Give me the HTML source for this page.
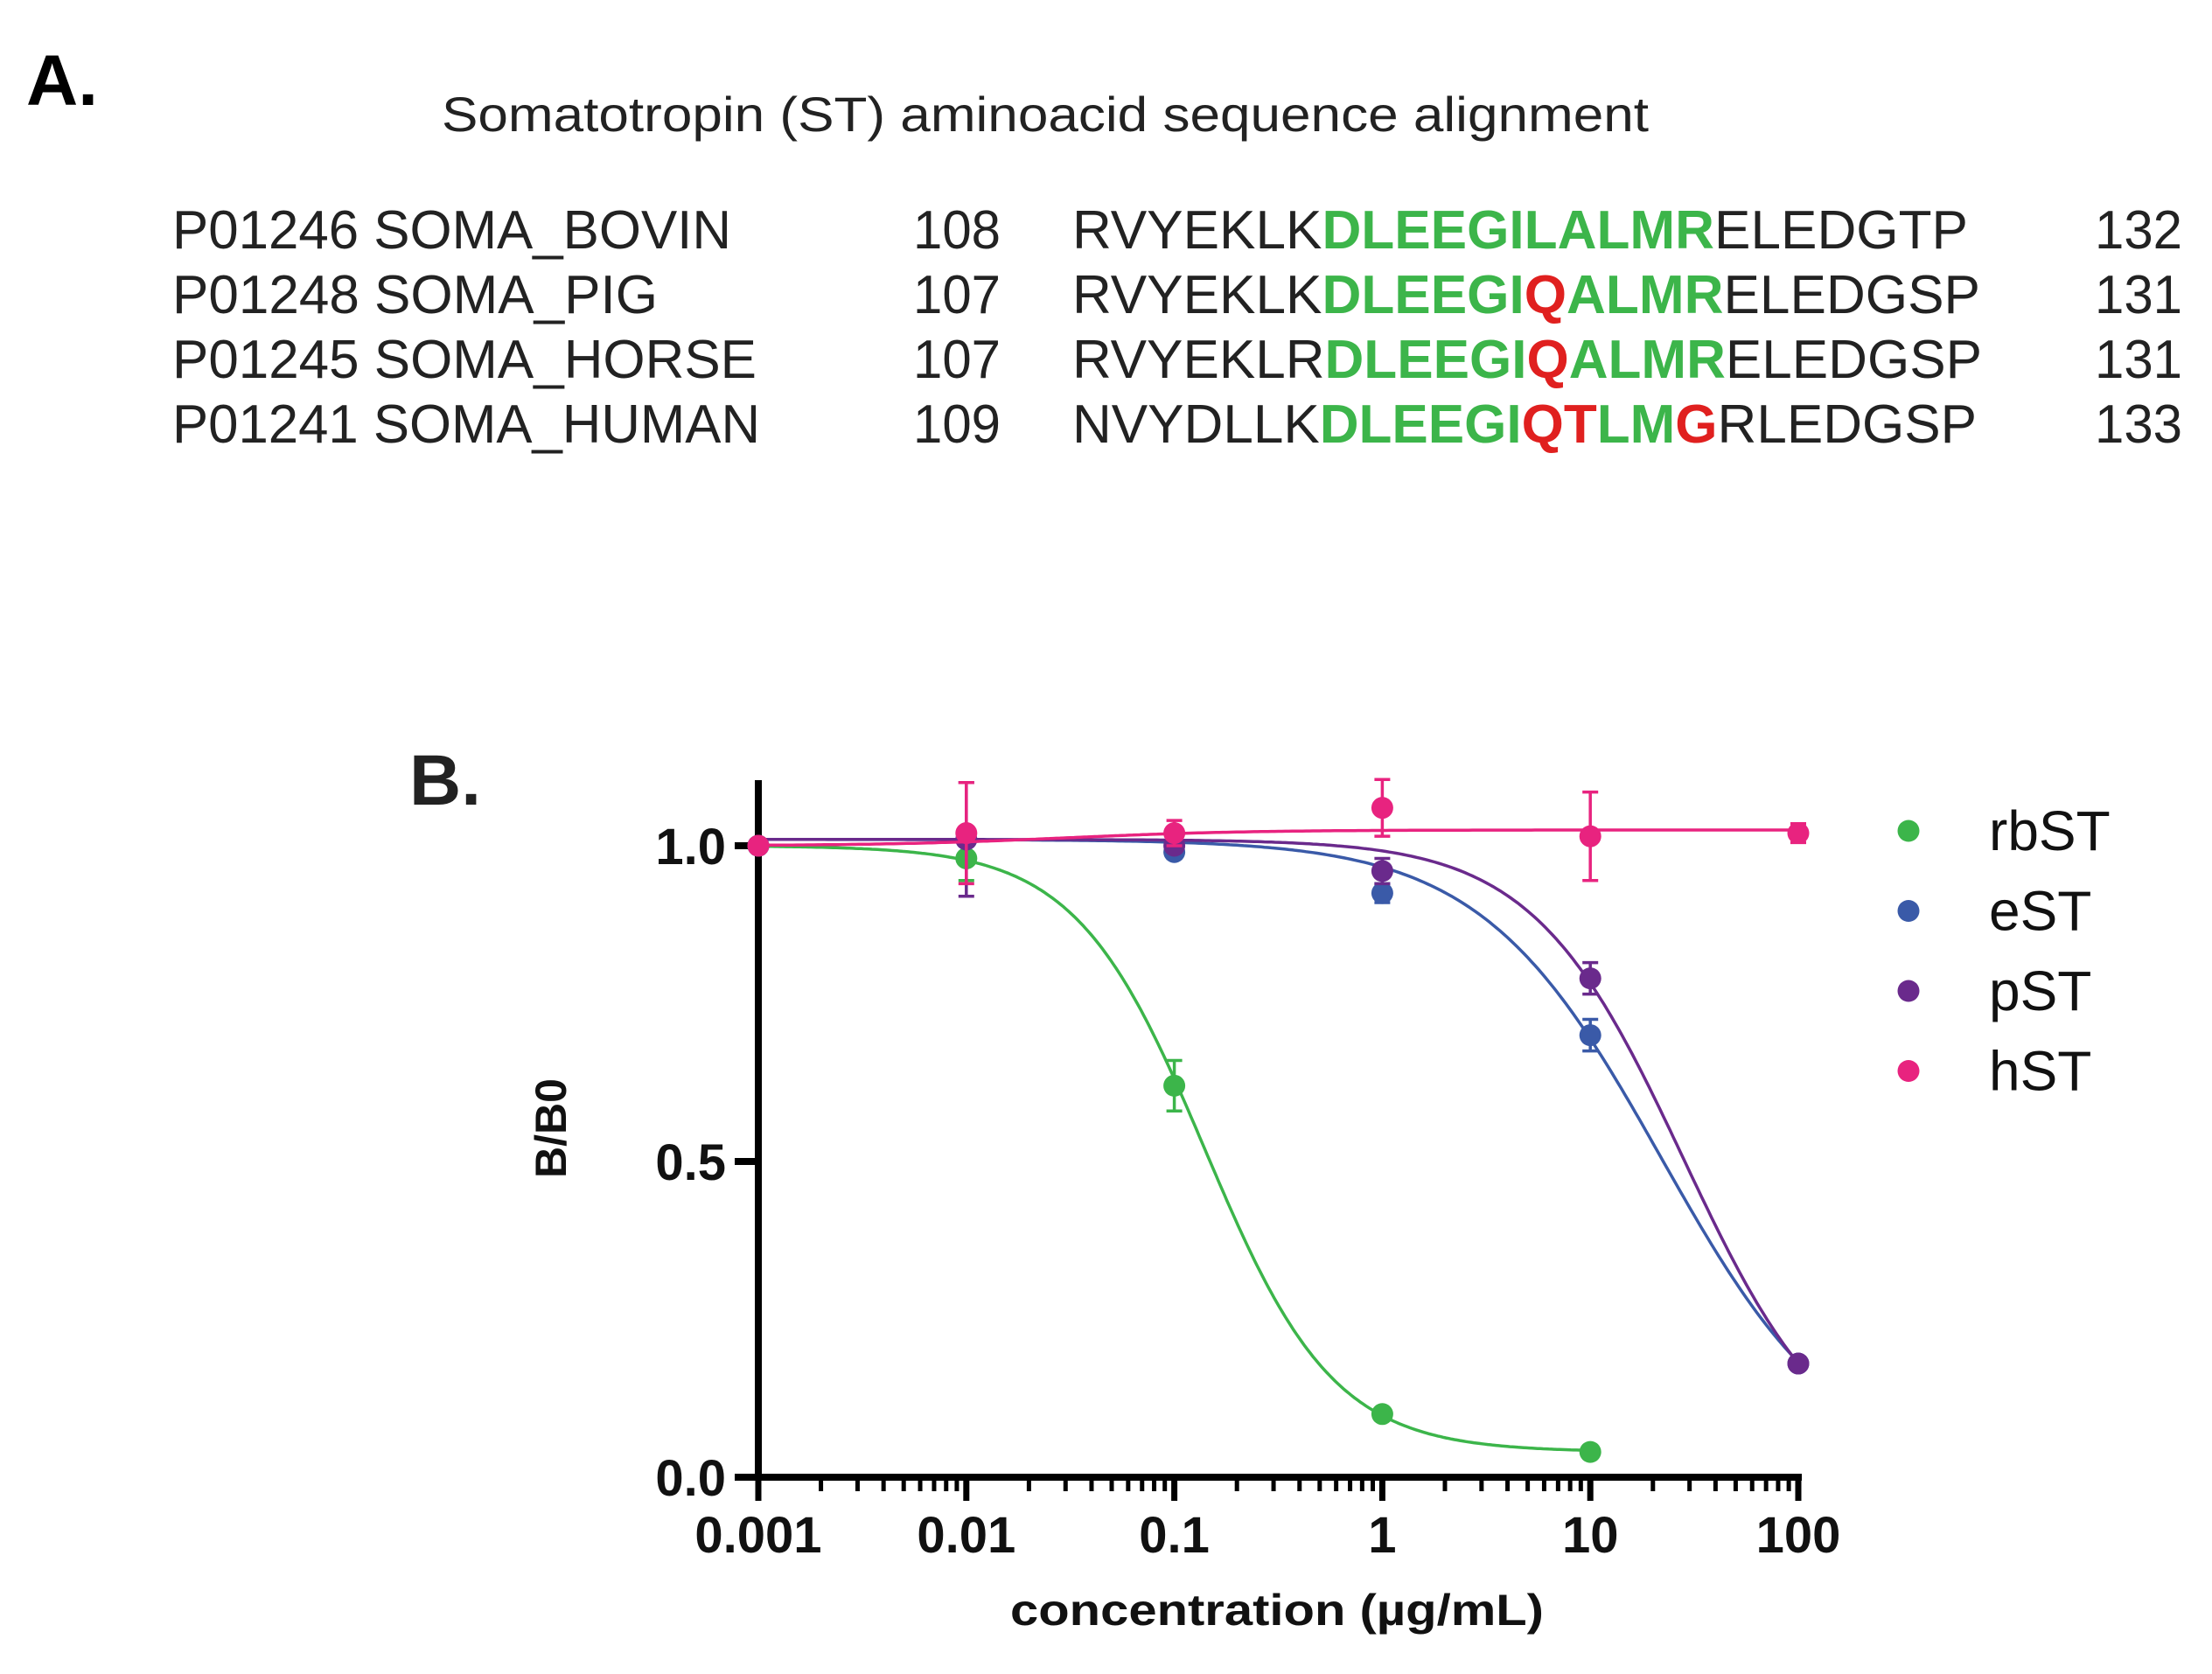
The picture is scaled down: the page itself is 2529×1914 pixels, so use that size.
<!DOCTYPE html>
<html><head><meta charset="utf-8"><style>
html,body{margin:0;padding:0;background:#fff;}
svg{display:block;}
</style></head><body>
<svg id="fig" width="2529" height="1914" viewBox="0 0 2529 1914" xmlns="http://www.w3.org/2000/svg" font-family="Liberation Sans, sans-serif">
<rect width="2529" height="1914" fill="#fff"/>
<g>
<text x="30" y="120" font-size="82" font-weight="bold">A.</text>
<text x="505" y="150" font-size="56" textLength="1380" lengthAdjust="spacingAndGlyphs" fill="#222">Somatotropin (ST) aminoacid sequence alignment</text>
<g font-size="62" fill="#222">
<text x="197" y="284" textLength="639" lengthAdjust="spacingAndGlyphs">P01246 SOMA_BOVIN</text>
<text x="197" y="358" textLength="555" lengthAdjust="spacingAndGlyphs">P01248 SOMA_PIG</text>
<text x="197" y="432" textLength="668" lengthAdjust="spacingAndGlyphs">P01245 SOMA_HORSE</text>
<text x="197" y="506" textLength="672" lengthAdjust="spacingAndGlyphs">P01241 SOMA_HUMAN</text>
<text x="1044" y="284" textLength="100" lengthAdjust="spacingAndGlyphs">108</text>
<text x="1044" y="358" textLength="100" lengthAdjust="spacingAndGlyphs">107</text>
<text x="1044" y="432" textLength="100" lengthAdjust="spacingAndGlyphs">107</text>
<text x="1044" y="506" textLength="100" lengthAdjust="spacingAndGlyphs">109</text>
<text x="1226" y="284" textLength="1024" lengthAdjust="spacingAndGlyphs">RVYEKLK<tspan fill="#3cb54a" font-weight="bold">DLEEGILALMR</tspan>ELEDGTP</text>
<text x="1226" y="358" textLength="1038" lengthAdjust="spacingAndGlyphs">RVYEKLK<tspan fill="#3cb54a" font-weight="bold">DLEEGI</tspan><tspan fill="#e0201f" font-weight="bold">Q</tspan><tspan fill="#3cb54a" font-weight="bold">ALMR</tspan>ELEDGSP</text>
<text x="1226" y="432" textLength="1040" lengthAdjust="spacingAndGlyphs">RVYEKLR<tspan fill="#3cb54a" font-weight="bold">DLEEGI</tspan><tspan fill="#e0201f" font-weight="bold">Q</tspan><tspan fill="#3cb54a" font-weight="bold">ALMR</tspan>ELEDGSP</text>
<text x="1226" y="506" textLength="1034" lengthAdjust="spacingAndGlyphs">NVYDLLK<tspan fill="#3cb54a" font-weight="bold">DLEEGI</tspan><tspan fill="#e0201f" font-weight="bold">QT</tspan><tspan fill="#3cb54a" font-weight="bold">LM</tspan><tspan fill="#e0201f" font-weight="bold">G</tspan>RLEDGSP</text>
<text x="2395" y="284" textLength="100" lengthAdjust="spacingAndGlyphs">132</text>
<text x="2395" y="358" textLength="100" lengthAdjust="spacingAndGlyphs">131</text>
<text x="2395" y="432" textLength="100" lengthAdjust="spacingAndGlyphs">131</text>
<text x="2395" y="506" textLength="100" lengthAdjust="spacingAndGlyphs">133</text>
</g>
</g>
<text x="468" y="920" font-size="82" font-weight="bold" fill="#222">B.</text>
<g id="chart"></g>
</svg>
<script>
// data
const concentrations = [0.001, 0.01, 0.1, 1, 10, 100];
const rbST = [1.0, 0.98, 0.62, 0.10, 0.04, null];
const rbSTErr = [0, 0.035, 0.04, 0.008, 0.006, null];
const eST = [1.0, 1.01, 0.99, 0.925, 0.70, 0.18];
const eSTErr = [0, 0.01, 0.01, 0.015, 0.025, 0.01];
const pST = [1.0, 1.01, 1.0, 0.96, 0.79, 0.18];
const pSTErr = [0, 0.09, 0.01, 0.02, 0.025, 0.01];
const hST = [1.0, 1.02, 1.02, 1.06, 1.015, 1.02];
const hSTErr = [0, 0.08, 0.02, 0.045, 0.07, 0.015];
// fitted 4PL curve parameters: [top, bottom, IC50, hill]
const rbSTFit = [1.0, 0.04, 0.14, 1.4];
const eSTFit = [1.01, 0.0, 22, 1.0];
const pSTFit = [1.01, 0.0, 28, 1.2];
const hSTFit = [1.0, 1.025, 0.03, 1.0];
const xTickLabels = ['0.001', '0.01', '0.1', '1', '10', '100'];
const yTicks = [0, 0.5, 1.0];
const yTickLabels = ['0.0', '0.5', '1.0'];
const seriesNames = ['rbST', 'eST', 'pST', 'hST'];

const NS = 'http://www.w3.org/2000/svg';
const X0 = 867, X1 = 2056, Y0 = 1689, Y1 = 967;
const lx0 = -3, lx1 = 2;
function xs(v){ return X0 + (Math.log10(v) - lx0) / (lx1 - lx0) * (X1 - X0); }
function ys(v){ return Y0 + v * (Y1 - Y0); }
const g = document.getElementById('chart');
function mk(tag, attrs, parent){ const e = document.createElementNS(NS, tag); for (const k in attrs) e.setAttribute(k, attrs[k]); (parent||g).appendChild(e); return e; }

// axes
let yAxis = mk('line', {x1:X0, y1:892, x2:X0, y2:Y0+4, stroke:'#000', 'stroke-width':8});


let xAxis = mk('line', {x1:X0-4, y1:Y0, x2:X1+4, y2:Y0, stroke:'#000', 'stroke-width':8});



yTicks.forEach((t, i) => {
  const tk = mk('line', {x1:X0-27, y1:ys(t), x2:X0, y2:ys(t), stroke:'#000', 'stroke-width':8});
  
  
  const lb = mk('text', {x:830, y:ys(t)+21, 'font-size':58, 'font-weight':'bold', 'text-anchor':'end', fill:'#111'});
  lb.textContent = yTickLabels[i];
  
  
});
xTickLabels.forEach((t, i) => {
  const v = concentrations[i];
  const tk = mk('line', {x1:xs(v), y1:Y0, x2:xs(v), y2:Y0+27, stroke:'#000', 'stroke-width':7});
  
  
  const lb = mk('text', {x:xs(v), y:1775, 'font-size':58, 'font-weight':'bold', 'text-anchor':'middle', fill:'#111'});
  lb.textContent = t;
  
  
  if (i < xTickLabels.length - 1) {
    for (let m = 2; m <= 9; m++) {
      const mt = mk('line', {x1:xs(v*m), y1:Y0, x2:xs(v*m), y2:Y0+16, stroke:'#000', 'stroke-width':5});
      
      
    }
  }
});
let xt = mk('text', {x:1460, y:1858, 'font-size':50, 'font-weight':'bold', 'text-anchor':'middle', fill:'#111', textLength:610, lengthAdjust:'spacingAndGlyphs'});
xt.textContent = 'concentration (\u00b5g/mL)';


let yt = mk('text', {x:0, y:0, 'font-size':50, 'font-weight':'bold', 'text-anchor':'middle', fill:'#111', transform:'translate(647,1290) rotate(-90)'});
yt.textContent = 'B/B0';



function fpl(p, x){ return p[1] + (p[0]-p[1]) / (1 + Math.pow(x/p[2], p[3])); }
const series = [
  {name:'rbST', vals:rbST, err:rbSTErr, fit:rbSTFit, color:'#3cb54a', xmax:10},
  {name:'eST', vals:eST, err:eSTErr, fit:eSTFit, color:'#3a5aa8', xmax:100},
  {name:'pST', vals:pST, err:pSTErr, fit:pSTFit, color:'#6a2a8c', xmax:100},
  {name:'hST', vals:hST, err:hSTErr, fit:hSTFit, color:'#e8237f', xmax:100}
];
series.forEach(s => {
  let d = '';
  const n = 300;
  for (let k = 0; k <= n; k++) {
    const lx = lx0 + (Math.log10(s.xmax) - lx0) * k / n;
    const x = Math.pow(10, lx);
    d += (k ? 'L' : 'M') + xs(x).toFixed(1) + ' ' + ys(fpl(s.fit, x)).toFixed(1);
  }
  const c = mk('path', {d:d, fill:'none', stroke:s.color, 'stroke-width':3.5});
  
  
  s.vals.forEach((v, i) => {
    if (v === null) return;
    const cx = xs(concentrations[i]), e = s.err[i];
    if (e > 0) {
      const eb = mk('path', {d:`M${cx} ${ys(v-e)}V${ys(v+e)}M${cx-9} ${ys(v-e)}h18M${cx-9} ${ys(v+e)}h18`, stroke:s.color, 'stroke-width':3.5, fill:'none'});
      
      
    }
    const p = mk('circle', {cx:cx, cy:ys(v), r:12.5, fill:s.color});
    
    
  });
});
// legend
const legendColors = ['#3cb54a', '#3a5aa8', '#6a2a8c', '#e8237f'];
seriesNames.forEach((nm, i) => {
  const y = 950 + i * 91.5;
  const dot = mk('circle', {cx:2182, cy:y, r:12.5, fill:legendColors[i]});
  
  
  const t = mk('text', {x:2274, y:y+22, 'font-size':64, fill:'#111'});
  t.textContent = nm;
  
  
});
</script>
</body></html>
